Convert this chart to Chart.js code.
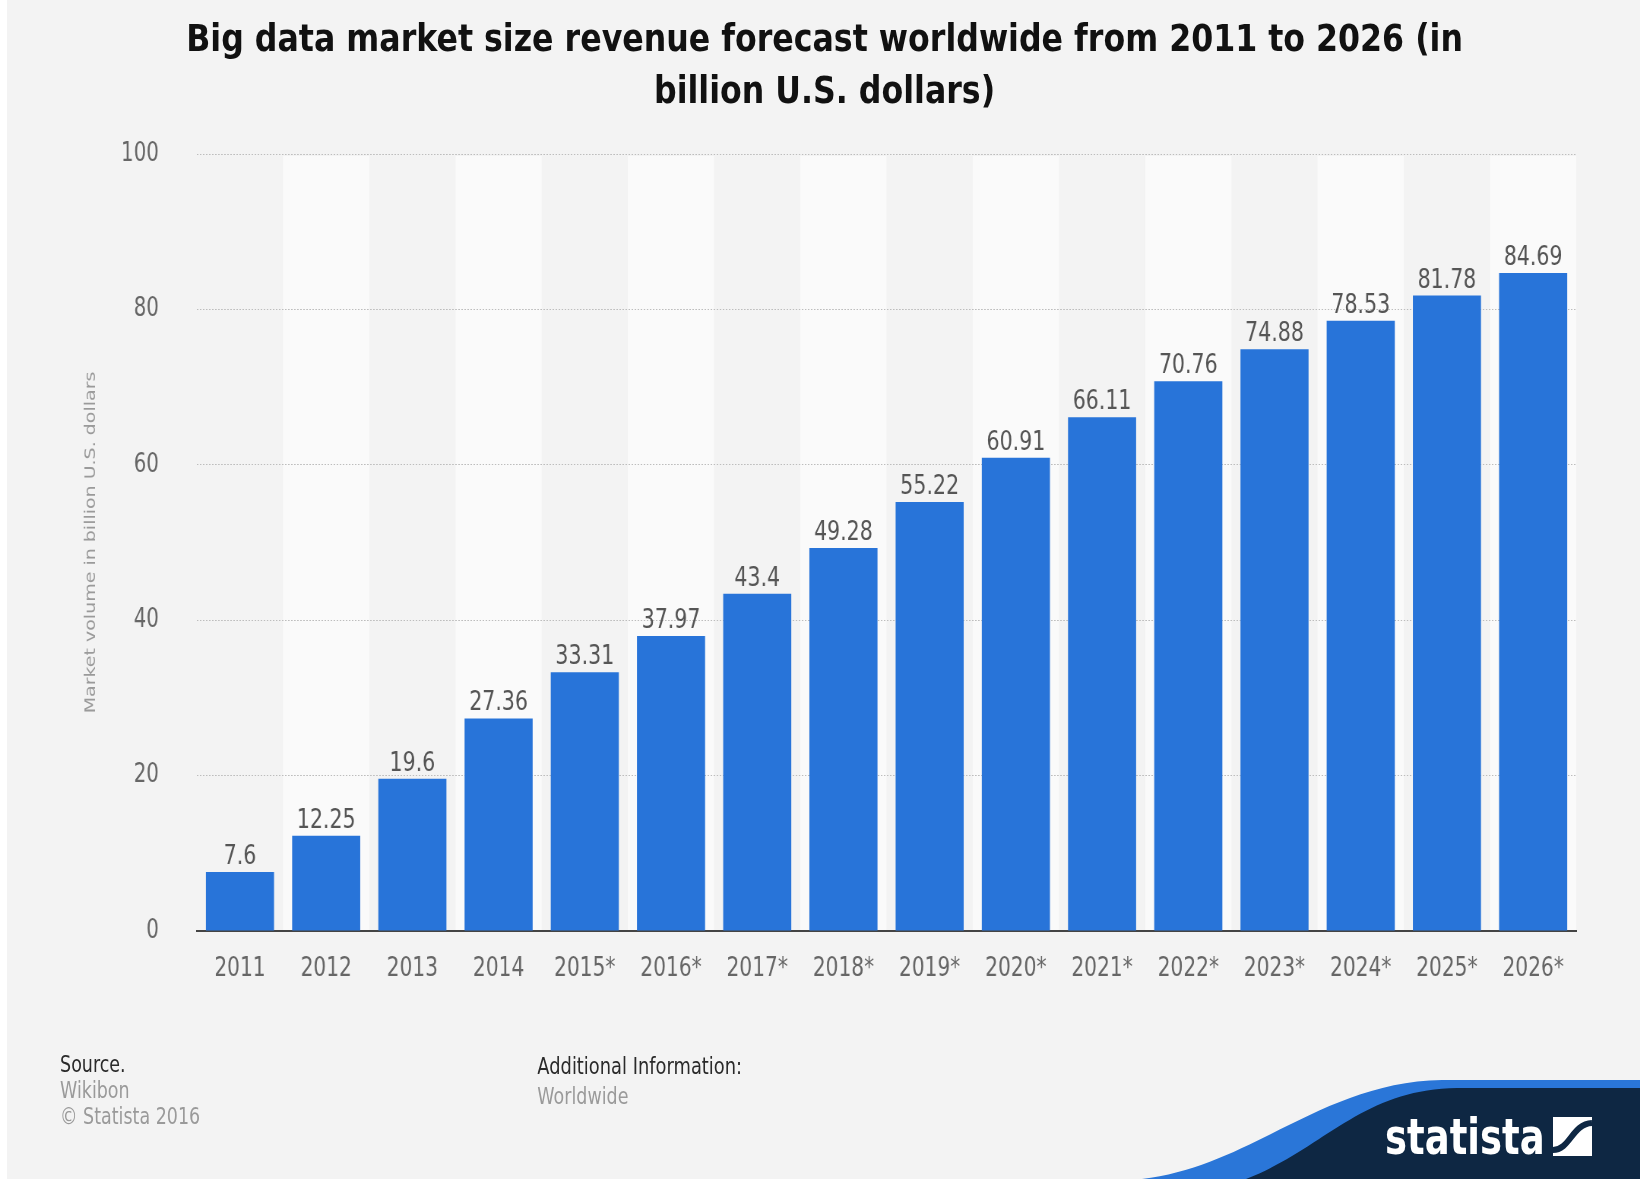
<!DOCTYPE html>
<html>
<head>
<meta charset="utf-8">
<script src="https://cdn.jsdelivr.net/npm/chart.js@4.4.1/dist/chart.umd.min.js"></script>
<style>
  html, body { margin: 0; padding: 0; background: #f3f3f3; overflow: hidden; }
  #page { position: relative; width: 1640px; height: 1179px; background: #f3f3f3; overflow: hidden; }
  #strip { position: absolute; left: 0; top: 0; width: 7px; height: 1179px; background: #ffffff; }
  #wrap { position: absolute; left: 0; top: 0; width: 2158px; height: 1179px; transform: scaleX(0.76); transform-origin: 0 0; font-family: 'DejaVu Sans', sans-serif; }
  #chart { position: absolute; left: 0; top: 0; }
  #title { position: absolute; left: 6px; top: 13px; width: 2158px; text-align: center; font-weight: bold; font-size: 37px; line-height: 52px; color: #111; transform: scaleX(1.125); transform-origin: 1079px 0; }
  .ft { position: absolute; font-size: 23px; line-height: 26px; white-space: nowrap; }
  .lbl { color: #2a2a2a; }
  .val { color: #9a9a9a; }
  #logo { position: absolute; left: 0; top: 0; }
</style>
</head>
<body>
<div id="page">
  <div id="strip"></div>
  <div id="wrap">
    <canvas id="chart" width="2158" height="1179" style="width:2158px;height:1179px;"></canvas>
    <div id="title">Big data market size revenue forecast worldwide from 2011 to 2026 (in<br>billion U.S. dollars)</div>
    <div class="ft lbl" style="left:79px; top:1051px;">Source.</div>
    <div class="ft val" style="left:79px; top:1077px;">Wikibon</div>
    <div class="ft val" style="left:79px; top:1103px;">© Statista 2016</div>
    <div class="ft lbl" style="left:707px; top:1053px; font-size:23.5px;">Additional Information:</div>
    <div class="ft val" style="left:707px; top:1083px; font-size:23px;">Worldwide</div>
  </div>
  <svg id="logo" width="1640" height="1179" viewBox="0 0 1640 1179">
    <path d="M1142,1179 C1252,1166 1322,1082 1442,1080 L1640,1080 L1640,1179 Z" fill="#2a76d8"/>
    <path d="M1246,1179 C1322,1150 1362,1089 1457,1088 L1640,1088 L1640,1179 Z" fill="#0e2743"/>
    <text transform="translate(1385,1154) scale(0.74,1)" font-family="DejaVu Sans" font-weight="bold" font-size="50" fill="#ffffff">statista</text>
    <rect x="1553" y="1117" width="39" height="39" fill="#ffffff"/>
    <path d="M1553,1150 C1570,1150 1572,1124 1592,1123" stroke="#0e2743" stroke-width="6" fill="none"/>
  </svg>
</div>
<script>
const categories = ['2011', '2012', '2013', '2014', '2015*', '2016*', '2017*', '2018*', '2019*', '2020*', '2021*', '2022*', '2023*', '2024*', '2025*', '2026*'];
const revenue = [7.6, 12.25, 19.6, 27.36, 33.31, 37.97, 43.4, 49.28, 55.22, 60.91, 66.11, 70.76, 74.88, 78.53, 81.78, 84.69];
const yMin = 0;
const yMax = 100;
const yStep = 20;
const yAxisTitle = 'Market volume in billion U.S. dollars';

const bandsPlugin = {
  id: 'bands',
  beforeDraw(chart) {
    const { ctx, chartArea, scales } = chart;
    const x = scales.x;
    const w = (chartArea.right - chartArea.left) / categories.length;
    ctx.save();
    ctx.fillStyle = '#fafafa';
    categories.forEach((c, i) => {
      if (i % 2 === 1) {
        const cx = x.getPixelForValue(i);
        ctx.fillRect(cx - w / 2, chartArea.top + 2, w, chartArea.bottom - chartArea.top - 2);
      }
    });
    ctx.restore();
  }
};

const valueLabels = {
  id: 'valueLabels',
  afterDatasetsDraw(chart) {
    const { ctx } = chart;
    const meta = chart.getDatasetMeta(0);
    ctx.save();
    ctx.font = '27px "DejaVu Sans"';
    ctx.fillStyle = '#555555';
    ctx.textAlign = 'center';
    ctx.textBaseline = 'alphabetic';
    meta.data.forEach((bar, i) => {
      ctx.fillText(String(revenue[i]), bar.x, bar.y - 8);
    });
    ctx.restore();
  }
};

new Chart(document.getElementById('chart'), {
  type: 'bar',
  data: {
    labels: categories,
    datasets: [{
      data: revenue,
      backgroundColor: '#2874d9',
      borderWidth: 0,
      categoryPercentage: 1.0,
      barPercentage: 0.79
    }]
  },
  options: {
    responsive: false,
    animation: false,
    devicePixelRatio: 1,
    layout: { padding: { left: 0, right: 84, top: 154, bottom: 0 } },
    plugins: {
      legend: { display: false },
      title: { display: false },
      tooltip: { enabled: false }
    },
    scales: {
      x: {
        grid: { display: false, drawTicks: false },
        border: { display: true, color: '#444444', width: 2 },
        ticks: {
          color: '#666666',
          font: { family: 'DejaVu Sans', size: 26.5 },
          padding: 22,
          maxRotation: 0,
          autoSkip: false
        },
        afterFit(scale) { scale.height = 248; }
      },
      y: {
        min: yMin,
        max: yMax,
        grid: { color: '#bdbdbd', lineWidth: 1, drawTicks: false },
        border: { display: false, dash: [2, 2] },
        ticks: {
          stepSize: yStep,
          color: '#666666',
          font: { family: 'DejaVu Sans', size: 26 },
          padding: 50
        },
        title: {
          display: true,
          text: yAxisTitle,
          color: '#9a9a9a',
          font: { family: 'DejaVu Sans', size: 19 },
          padding: { top: 109, bottom: 0 }
        },
        afterFit(scale) { scale.width = 259; }
      }
    }
  },
  plugins: [bandsPlugin, valueLabels]
});
</script>
</body>
</html>
